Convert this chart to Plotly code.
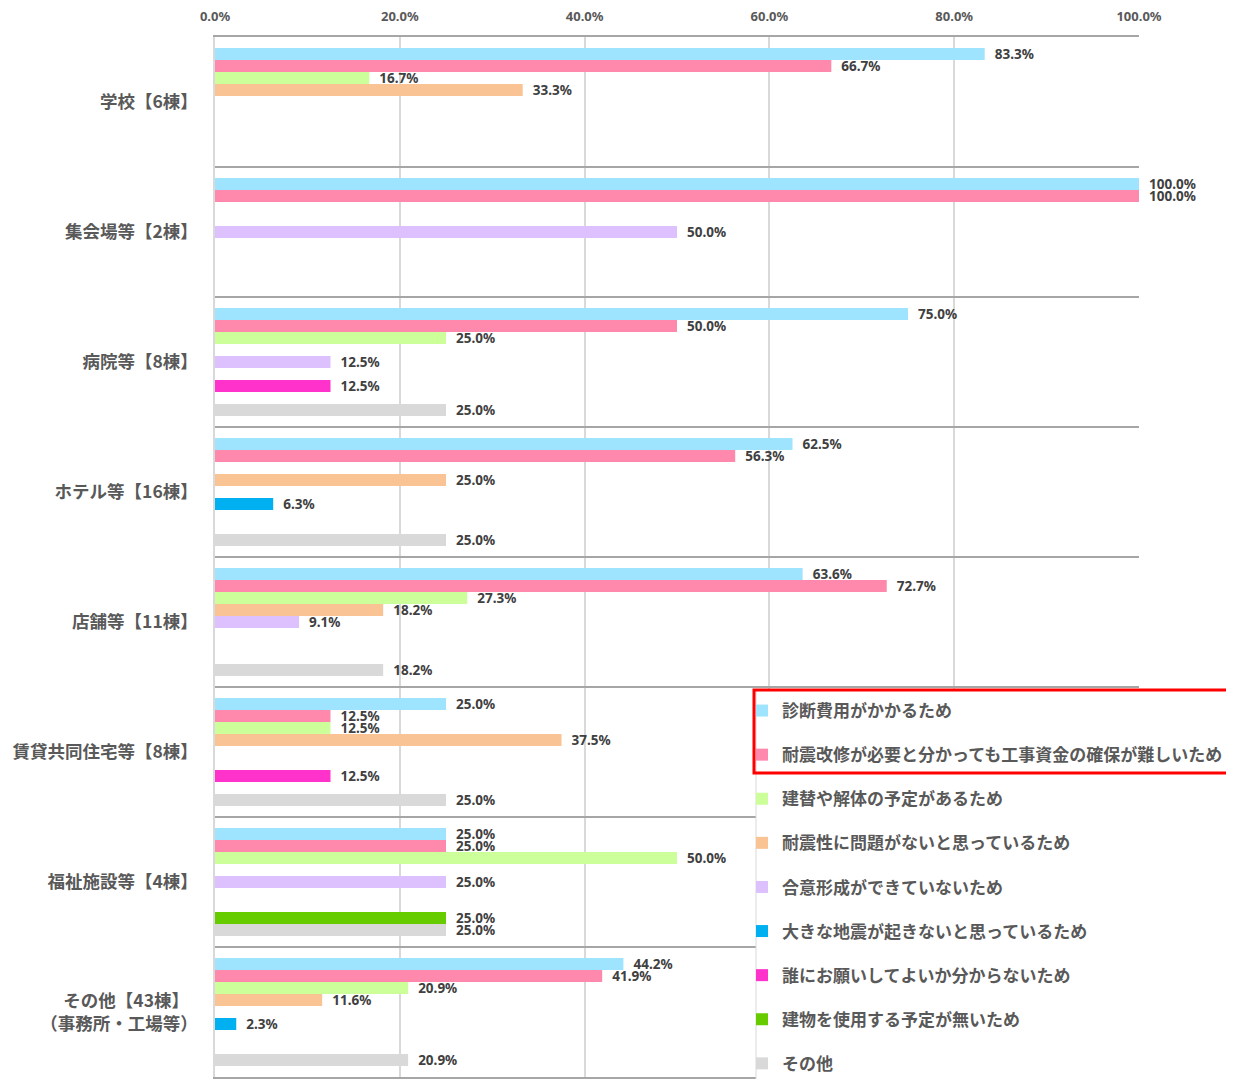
import plotly.graph_objects as go

categories = ["学校【6棟】", "集会場等【2棟】", "病院等【8棟】", "ホテル等【16棟】",
              "店舗等【11棟】", "賃貸共同住宅等【8棟】", "福祉施設等【4棟】",
              "その他【43棟】\u3000<br>（事務所・工場等）"]

series_names = ["診断費用がかかるため",
                "耐震改修が必要と分かっても工事資金の確保が難しいため",
                "建替や解体の予定があるため",
                "耐震性に問題がないと思っているため",
                "合意形成ができていないため",
                "大きな地震が起きないと思っているため",
                "誰にお願いしてよいか分からないため",
                "建物を使用する予定が無いため",
                "その他"]

colors = ["#9FE4FF", "#FF88AD", "#CCFF99", "#F9C393", "#DDC1FF",
          "#00B0F0", "#FF33CC", "#66CC00", "#D9D9D9"]

s1 = [83.3, 100.0, 75.0, 62.5, 63.6, 25.0, 25.0, 44.2]
s2 = [66.7, 100.0, 50.0, 56.3, 72.7, 12.5, 25.0, 41.9]
s3 = [16.7, None, 25.0, None, 27.3, 12.5, 50.0, 20.9]
s4 = [33.3, None, None, 25.0, 18.2, 37.5, None, 11.6]
s5 = [None, 50.0, 12.5, None, 9.1, None, 25.0, None]
s6 = [None, None, None, 6.3, None, None, None, 2.3]
s7 = [None, None, 12.5, None, None, 12.5, None, None]
s8 = [None, None, None, None, None, None, 25.0, None]
s9 = [None, None, 25.0, 25.0, 18.2, 25.0, 25.0, 20.9]
series_values = [s1, s2, s3, s4, s5, s6, s7, s8, s9]

x_ticks = [0, 20, 40, 60, 80, 100]

# page offset caused by the default body margin of the html page
OFF = 8
W, H = 1234, 1079
ML, MR, MT, MB = 215 - OFF, 103, 37 - OFF, 10
PW, PH = W - ML - MR, H - MT - MB


def px_x(p):
    return (p - OFF - ML) / PW


def px_y(p):
    return (H - MB - (p - OFF)) / PH


fig = go.Figure()
for i, (name, vals, col) in enumerate(zip(series_names, series_values, colors)):
    fig.add_trace(go.Bar(
        y=categories, x=vals, name=name, orientation="h",
        marker=dict(color=col, line=dict(width=0)),
        texttemplate="\u00a0\u00a0%{x:.1f}%", textposition="outside",
        textfont=dict(family="Noto Sans", size=13.5, color="#404040", weight="bold"),
        constraintext="none", cliponaxis=False, legendgroup=f"g{i}",
        hoverinfo="skip",
    ))

fig.update_layout(
    width=W, height=H,
    margin=dict(l=ML, r=MR, t=MT, b=MB, autoexpand=False),
    paper_bgcolor="white", plot_bgcolor="white",
    barmode="group", bargap=0.17, bargroupgap=0,
    font=dict(family="Noto Sans CJK JP", color="#595959"),
    xaxis=dict(side="top", range=[0, 100], tickvals=x_ticks,
               ticktext=[f"{v:.1f}%" for v in x_ticks],
               showgrid=True, gridcolor="#D9D9D9", gridwidth=1.5, zeroline=False,
               showline=True, mirror=True, linecolor="#A6A6A6", linewidth=1.5,
               tickfont=dict(family="Noto Sans", size=13, color="#595959", weight="bold"),
               ticks="", ticklabelstandoff=9, automargin=False, fixedrange=True),
    yaxis=dict(categoryorder="array", categoryarray=categories,
               range=[len(categories) - 0.5, -0.5],
               tickson="boundaries", showgrid=True, gridcolor="#A6A6A6", gridwidth=1.5,
               ticks="", ticklabelstandoff=12, automargin=False,
               tickfont=dict(family="Noto Sans CJK JP", size=17.5, color="#595959", weight="bold"),
               showline=True, linecolor="#D9D9D9", linewidth=1.5),
    legend=dict(xref="container", yref="container",
                x=(742 - OFF) / W, y=1 - (693 - OFF) / H, xanchor="left", yanchor="top",
                bgcolor="rgba(0,0,0,0)", borderwidth=0,
                traceorder="grouped", tracegroupgap=19,
                font=dict(family="Noto Sans CJK JP", size=17, color="#595959", weight="bold")),
    shapes=[
        dict(type="rect", xref="paper", yref="paper", x0=px_x(756), x1=px_x(1230),
             y0=px_y(1095), y1=px_y(690),
             fillcolor="white", line=dict(color="#D9D9D9", width=1), layer="above"),
        dict(type="rect", xref="paper", yref="paper", x0=px_x(754), x1=px_x(1229),
             y0=px_y(773), y1=px_y(690),
             fillcolor="rgba(0,0,0,0)", line=dict(color="#FF0000", width=3), layer="above"),
    ],
)

fig.write_html("out.html")
